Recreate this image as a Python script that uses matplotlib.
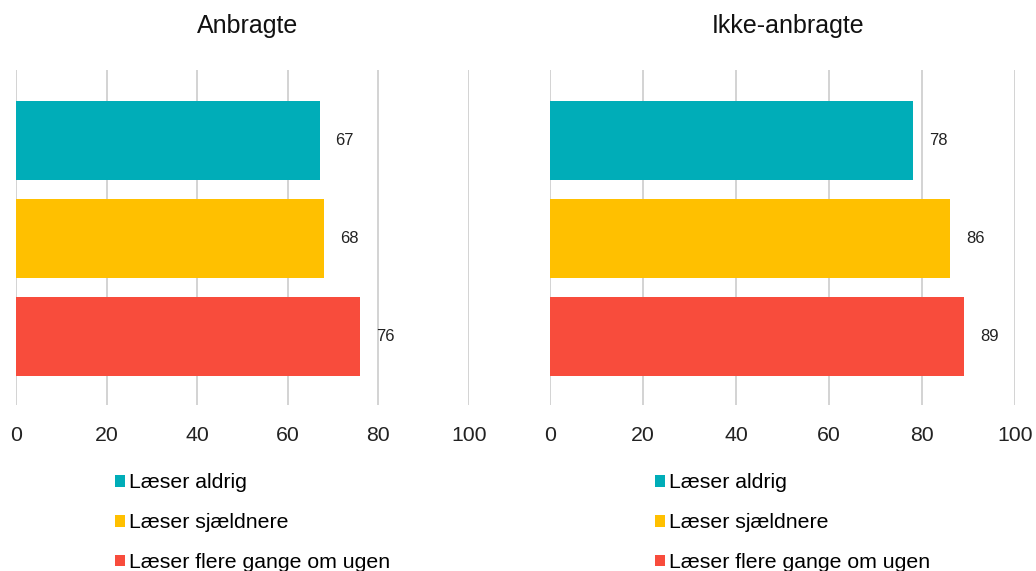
import matplotlib.pyplot as plt
from matplotlib.patches import Patch

plt.rcParams['font.family'] = ['Liberation Sans', 'DejaVu Sans']

groups = ['Anbragte', 'Ikke-anbragte']
categories = ['Læser aldrig', 'Læser sjældnere', 'Læser flere gange om ugen']
anbragte = [67, 68, 76]
ikke_anbragte = [78, 86, 89]
colors = ['#00adb8', '#ffc000', '#f84c3c']
ticks = [0, 20, 40, 60, 80, 100]

W, H = 1036, 571
fig = plt.figure(figsize=(W / 100, H / 100), dpi=100)

# axes boxes in pixels: left, right, legend offset
boxes = [(16, 469, 90.5), (550, 1015, 96.5)]
top, bottom = 70, 405

for (x0, x1, leg_dx), title, values in zip(boxes, groups, [anbragte, ikke_anbragte]):
    ax = fig.add_axes([x0 / W, (H - bottom) / H, (x1 - x0) / W, (bottom - top) / H])
    pos = list(range(len(values)))
    ax.barh(pos, values, height=0.8, color=colors, zorder=2)
    for p, v in zip(pos, values):
        ax.text(v + 3.5, p, str(v), va='center', ha='left', fontsize=12, color='#222222')
    ax.set_xlim(0, 100)
    ax.set_ylim(2.7, -0.72)
    ax.set_xticks(ticks)
    ax.set_yticks([])
    ax.tick_params(axis='x', length=0, labelsize=15.3, pad=15, colors='#222222')
    ax.grid(axis='x', color='#cccccc', linewidth=1.2, zorder=0)
    for s in ax.spines.values():
        s.set_visible(False)
    ax.set_title(title, fontsize=18, pad=26.5, color='#111111', x=0.512)
    handles = [Patch(facecolor=c, edgecolor='none') for c in colors]
    ax.legend(handles, categories, loc='upper left',
              bbox_to_anchor=(leg_dx / (x1 - x0), -0.179),
              frameon=False, fontsize=15.3, handlelength=0.47, handleheight=0.47,
              handletextpad=0.2, labelspacing=0.98, borderaxespad=0)

fig.savefig('out.png', dpi=100)
